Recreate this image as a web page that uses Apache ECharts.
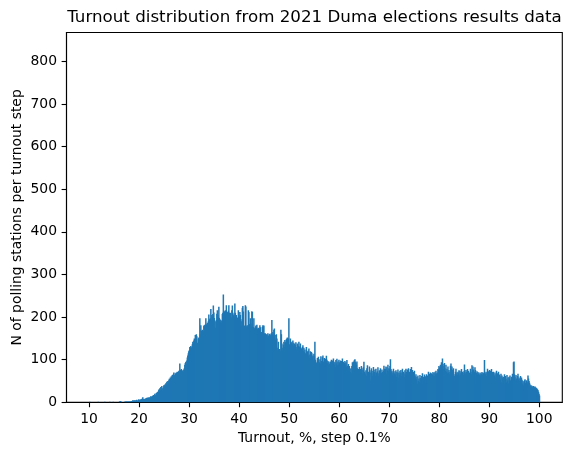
<!DOCTYPE html>
<html>
<head>
<meta charset="utf-8">
<script src="https://cdn.jsdelivr.net/npm/echarts@6/dist/echarts.min.js"></script>
<style>
html,body{margin:0;padding:0;background:#fff;}
#chart{width:571px;height:455px;}
</style>
</head>
<body>
<div id="chart"></div>
<script>
// Histogram: counts of polling stations per 0.1% turnout bin, bins start at 10.0
const binStart = 10.0;
const binStep = 0.1;
const counts10s = [
1,0,0,0,0,0,0,0,0,0,
0,0,0,0,0,0,0,1,0,0,
0,0,0,0,0,0,0,0,0,0,
1,0,0,0,0,0,0,0,0,0,
1,0,0,0,0,0,0,1,0,0,
0,0,0,0,0,0,0,0,0,1,
2,3,2,1,0,0,0,0,0,0,
1,2,1,2,2,1,2,2,1,2,
2,1,2,3,2,2,5,4,3,5,
4,3,5,4,6,3,4,5,7,4];
const counts20s = [
6,5,7,6,8,9,12,7,8,6,
8,9,7,10,9,11,8,10,12,9,
12,10,14,13,11,15,13,17,14,16,
20,15,18,22,19,24,21,26,30,25,
33,28,36,30,38,27,33,35,40,37,
42,38,45,41,48,44,50,46,52,55,
52,58,55,61,57,64,60,66,70,62,
64,68,66,70,67,72,69,71,74,70,
91,76,72,78,74,73,75,71,77,80,
88,92,95,90,98,105,110,115,120,122];
const counts30s = [
130,127,132,129,126,136,142,138,145,150,
148,158,152,160,155,140,136,150,152,148,
197,160,181,168,165,170,163,167,180,178,
182,180,197,183,178,187,185,190,206,195,
188,197,219,193,205,200,207,227,211,198,
173,175,190,193,208,216,205,200,224,198,
195,189,193,186,191,207,210,253,205,214,
212,216,205,228,203,210,212,215,228,210,
205,210,200,197,216,227,210,203,206,200,
232,210,197,205,190,199,197,216,203,200];
const counts40s = [
212,205,195,180,190,222,226,213,177,180,
175,228,225,177,180,178,181,216,212,184,
181,197,185,178,214,212,175,177,197,174,
173,176,180,178,182,173,170,175,174,172,
181,176,162,165,160,177,181,178,180,162,
158,162,156,160,159,154,162,157,155,160,
161,155,158,162,193,160,165,158,170,173,
150,146,158,160,150,122,128,142,122,125,
124,120,170,160,138,122,128,135,142,130,
146,140,142,148,150,152,148,150,197,136];
const counts50s = [
134,150,140,138,142,136,145,133,140,137,
128,135,141,124,130,138,126,133,142,129,
131,138,125,127,122,130,134,120,128,118,
124,115,112,130,108,118,121,110,126,104,
112,120,102,118,115,106,110,99,114,108,
142,100,95,92,88,104,96,107,90,94,
101,91,108,97,94,106,110,96,92,104,
98,102,94,109,100,92,97,88,95,91,
87,96,84,100,92,98,85,103,93,89,
95,83,99,91,102,87,96,89,100,94];
const counts60s = [
91,98,86,97,90,103,88,95,84,92,
97,89,94,83,99,86,80,90,74,85,
78,72,80,68,85,94,90,96,93,99,
101,95,92,88,96,80,75,78,72,83,
70,78,73,85,80,68,76,82,95,72,
70,66,75,62,80,87,58,72,68,84,
75,52,70,80,68,62,74,83,66,71,
77,63,79,70,66,73,82,61,68,75,
72,80,64,69,77,71,66,74,86,79,
70,78,84,67,82,75,88,73,80,77];
const counts70s = [
85,101,78,72,74,65,70,79,62,68,
73,66,75,60,71,68,77,58,70,64,
74,69,76,62,70,79,65,72,68,60,
75,66,79,71,63,77,69,80,64,72,
67,78,73,83,70,76,64,71,68,74,
62,58,66,54,60,44,63,50,56,48,
64,57,46,62,55,68,43,60,52,65,
58,61,47,66,55,63,59,72,60,67,
64,70,62,68,60,66,71,63,69,61,
72,66,74,68,63,70,78,76,85,80];
const counts80s = [
82,88,76,94,84,103,90,78,86,92,
80,74,88,72,79,68,84,70,76,66,
72,86,91,78,84,76,70,80,66,62,
50,72,79,66,70,64,72,68,75,63,
74,65,70,78,66,72,69,64,73,89,
70,66,76,72,64,78,68,74,65,70,
63,79,71,66,87,75,84,77,68,72,
82,76,44,69,73,65,71,68,66,64,
70,63,68,66,71,64,69,67,70,99,
68,66,72,62,70,79,65,73,60,76];
const counts90s = [
69,74,63,78,67,71,60,72,65,62,
70,58,66,74,55,68,62,72,57,65,
61,54,67,48,63,58,44,60,52,66,
40,62,55,47,64,51,58,45,60,56,
63,52,48,60,57,67,55,94,96,66,
60,52,64,56,48,62,67,54,58,50,
55,62,48,58,53,44,50,40,47,52,
54,46,42,52,48,44,63,56,50,46,
42,38,40,36,39,35,37,38,36,34,
37,35,34,33,32,30,28,24,20,16];
const xTicks = [10,20,30,40,50,60,70,80,90,100];
const yTicks = [0,100,200,300,400,500,600,700,800];

const allCounts = [].concat(counts10s, counts20s, counts30s, counts40s, counts50s,
  counts60s, counts70s, counts80s, counts90s);
const histData = allCounts.map((c, i) => [+(binStart + i * binStep).toFixed(1), c]);

const chart = echarts.init(document.getElementById('chart'), null, {renderer: 'canvas'});
const FONT = 'DejaVu Sans';
const option = {
  animation: false,
  backgroundColor: '#fff',
  textStyle: {fontFamily: FONT},
  graphic: [{
    type: 'text', x: 314.5, y: 18, silent: true,
    style: {text: 'Turnout distribution from 2021 Duma elections results data',
      font: '16.7px "DejaVu Sans"', fill: '#000', align: 'center', verticalAlign: 'middle'}
  }],
  grid: {left: 66.5, right: 8.7, top: 32.5, bottom: 52.7, show: true,
    borderColor: '#000', borderWidth: 1.1, backgroundColor: 'transparent',
    outerBoundsMode: 'none', containLabel: false},
  xAxis: {
    type: 'value', min: 5.495, max: 104.605,
    name: 'Turnout, %, step 0.1%', nameLocation: 'middle', nameGap: 29, nameMoveOverlap: false,
    nameTextStyle: {fontFamily: FONT, fontSize: 13.9, color: '#000'},
    axisLine: {show: true, onZero: false, lineStyle: {color: '#000', width: 1.1}},
    axisTick: {show: true, length: 4.9, inside: false, customValues: xTicks, lineStyle: {color: '#000', width: 1.1}},
    axisLabel: {show: true, customValues: xTicks, margin: 10, fontFamily: FONT, fontSize: 13.9, color: '#000'},
    splitLine: {show: false}
  },
  yAxis: {
    type: 'value', min: 0, max: 868,
    name: 'N of polling stations per turnout step', nameLocation: 'middle', nameGap: 42, nameMoveOverlap: false,
    nameTextStyle: {fontFamily: FONT, fontSize: 13.9, color: '#000'},
    axisLine: {show: true, onZero: false, lineStyle: {color: '#000', width: 1.1}},
    axisTick: {show: true, length: 4.9, customValues: yTicks, lineStyle: {color: '#000', width: 1.1}},
    axisLabel: {show: true, customValues: yTicks, margin: 9.5, fontFamily: FONT, fontSize: 13.9, color: '#000'},
    splitLine: {show: false}
  },
  series: [{
    type: 'custom',
    data: histData,
    clip: true,
    renderItem: function (params, api) {
      const x0 = api.value(0);
      const v = api.value(1);
      if (!v) return null;
      const top = api.coord([x0, v]);
      const bot = api.coord([x0 + binStep, 0]);
      return {
        type: 'rect',
        shape: {x: top[0], y: top[1], width: bot[0] - top[0] + 1, height: bot[1] - top[1]},
        style: {fill: '#1f77b4'}
      };
    }
  }]
};
chart.setOption(option);
</script>
</body>
</html>
